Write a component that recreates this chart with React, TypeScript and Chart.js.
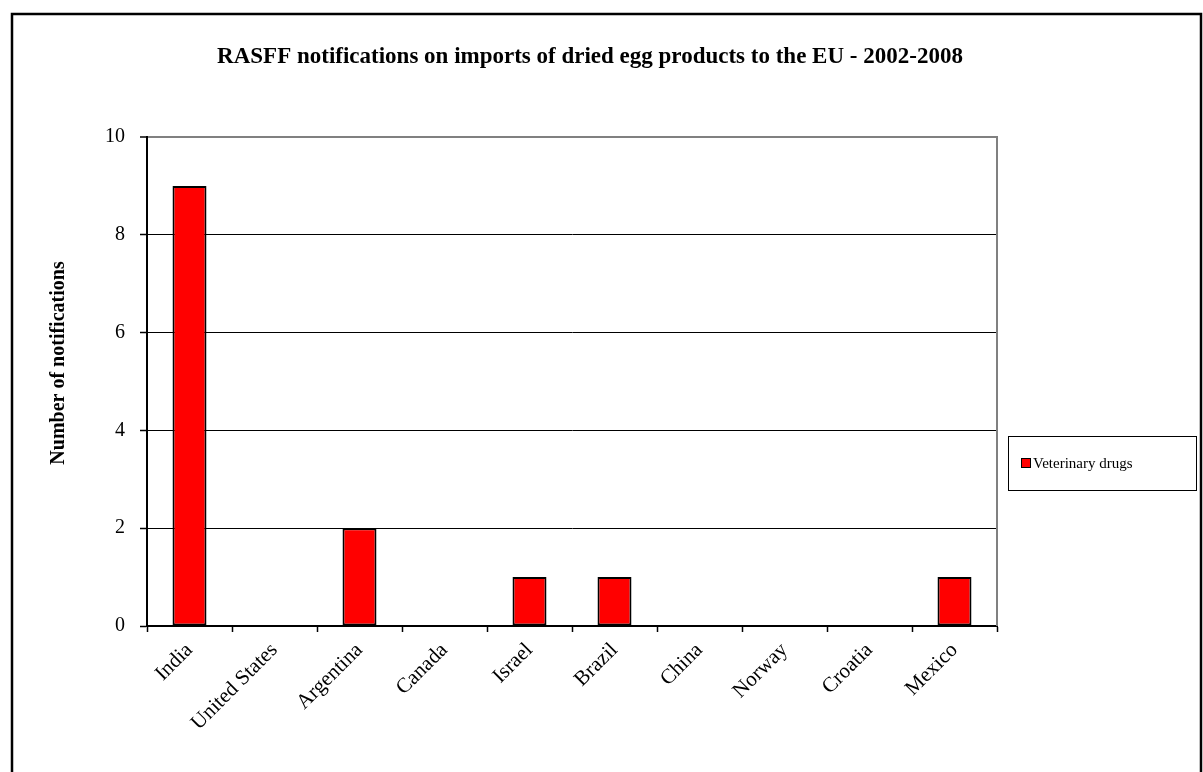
import React, { useEffect, useRef } from "react";
import { Chart, registerables } from "chart.js";

Chart.register(...registerables);

const categories = ["India", "United States", "Argentina", "Canada", "Israel", "Brazil", "China", "Norway", "Croatia", "Mexico"];
const veterinaryDrugs = [9, 0, 2, 0, 1, 1, 0, 0, 0, 1];
const seriesLabel = "Veterinary drugs";
const chartTitle = "RASFF notifications on imports of dried egg products to the EU - 2002-2008";
const yAxisTitle = "Number of notifications";
const yMin = 0;
const yMax = 10;
const yStep = 2;

const FONT = "'Liberation Serif', 'Times New Roman', serif";

const decorPlugin = {
  id: "decor",
  beforeDatasetsDraw(chart: any) {
    const ctx = chart.ctx;
    const { right, top, bottom } = chart.chartArea;
    ctx.save();
    ctx.strokeStyle = "#808080";
    ctx.lineWidth = 2;
    ctx.beginPath();
    ctx.moveTo(right, top - 1);
    ctx.lineTo(right, bottom);
    ctx.stroke();
    ctx.restore();
  },
  afterDraw(chart: any) {
    const ctx = chart.ctx;
    ctx.save();
    // outer frame
    ctx.strokeStyle = "#000";
    ctx.lineWidth = 2.5;
    ctx.strokeRect(12, 14, 1189, 800);

    // title
    ctx.fillStyle = "#000";
    ctx.font = `bold 23px ${FONT}`;
    ctx.textAlign = "center";
    ctx.textBaseline = "middle";
    ctx.fillText(chartTitle, 590, 57);

    // y axis title
    ctx.save();
    ctx.translate(58.5, 363);
    ctx.rotate(-Math.PI / 2);
    ctx.font = `bold 20px ${FONT}`;
    ctx.fillText(yAxisTitle, 0, 0);
    ctx.restore();

    // legend
    const ds = chart.data.datasets[0];
    ctx.lineWidth = 1;
    ctx.strokeStyle = "#000";
    ctx.fillStyle = "#fff";
    ctx.fillRect(1008.5, 436.5, 188, 54);
    ctx.strokeRect(1008.5, 436.5, 188, 54);
    ctx.fillStyle = ds.backgroundColor;
    ctx.fillRect(1021.5, 458.5, 9, 9);
    ctx.strokeRect(1021.5, 458.5, 9, 9);
    ctx.fillStyle = "#000";
    ctx.font = `15px ${FONT}`;
    ctx.textAlign = "left";
    ctx.fillText(ds.label, 1033, 464);
    ctx.restore();
  },
};

export default function App() {
  const ref = useRef<HTMLCanvasElement | null>(null);

  useEffect(() => {
    if (!ref.current) return;
    const chart = new Chart(ref.current, {
      type: "bar",
      data: {
        labels: categories,
        datasets: [
          {
            label: seriesLabel,
            data: veterinaryDrugs,
            backgroundColor: "#FF0000",
            borderColor: "#000000",
            borderWidth: 2,
            borderSkipped: false,
            barPercentage: 0.4,
            categoryPercentage: 1,
          },
        ],
      },
      options: {
        responsive: false,
        animation: false,
        devicePixelRatio: 1,
        layout: { padding: { left: 0, right: 206, top: 137, bottom: 0 } },
        plugins: {
          legend: { display: false },
          title: { display: false },
          tooltip: { enabled: false },
        },
        scales: {
          x: {
            offset: true,
            afterFit(scale: any) {
              scale.height = 146;
            },
            grid: {
              offset: true,
              drawOnChartArea: false,
              drawTicks: true,
              tickLength: 6,
              tickColor: "#000",
              tickWidth: 1.5,
            },
            border: { color: "#000", width: 2 },
            ticks: {
              autoSkip: false,
              maxRotation: 45,
              minRotation: 45,
              padding: 6,
              color: "#000",
              font: { family: FONT, size: 21 },
            },
          },
          y: {
            min: yMin,
            max: yMax,
            afterFit(scale: any) {
              scale.width = 147;
            },
            grid: {
              color: (c: any) => (c.tick && c.tick.value === yMax ? "#808080" : "#000"),
              lineWidth: (c: any) => (c.tick && c.tick.value === yMax ? 2 : 1),
              drawTicks: true,
              tickLength: 7,
              tickColor: "#000",
              tickWidth: 1.5,
            },
            border: { color: "#000", width: 2 },
            ticks: {
              stepSize: yStep,
              padding: 15,
              color: "#000",
              font: { family: FONT, size: 20 },
            },
          },
        },
      },
      plugins: [decorPlugin],
    });
    return () => chart.destroy();
  }, []);

  return (
    <div style={{ position: "absolute", left: 0, top: 0, width: 1203, height: 772, background: "#fff" }}>
      <canvas ref={ref} width={1203} height={772} />
    </div>
  );
}
